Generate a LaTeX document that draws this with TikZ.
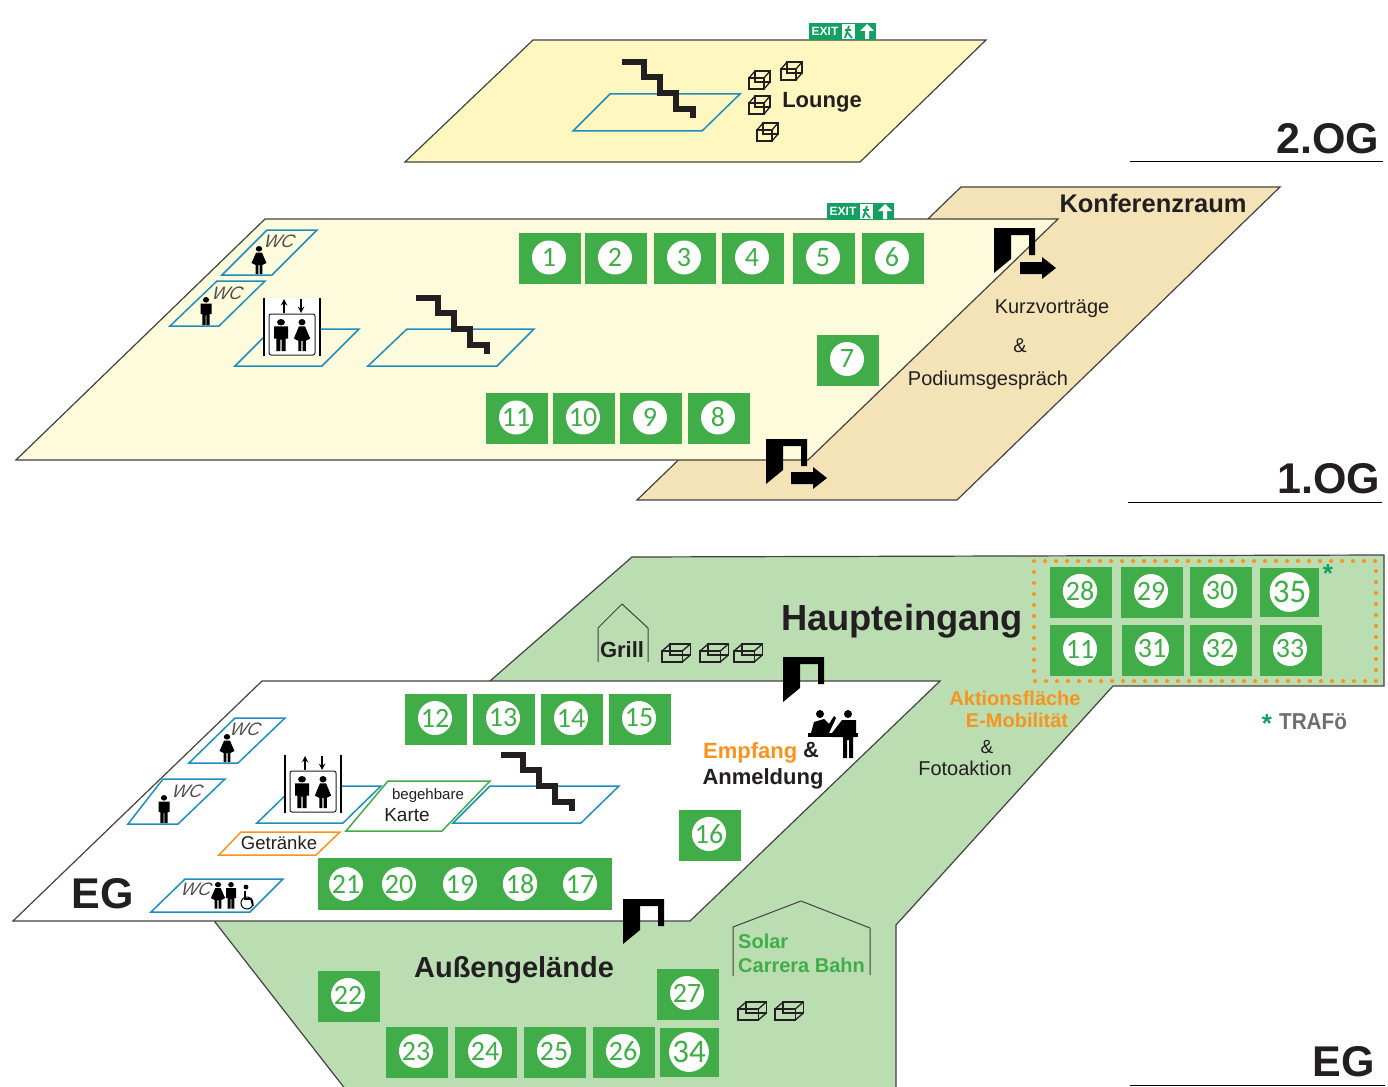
\documentclass[tikz,border=0pt]{standalone}
\usepackage{fontspec}
\setmainfont{Liberation Sans}
\newfontfamily\numfont{Carlito}
\usetikzlibrary{arrows,positioning}

\definecolor{lounge}{HTML}{FEF7C0}
\definecolor{cream}{HTML}{FEFADC}
\definecolor{tan}{HTML}{F3E3B6}
\definecolor{lawn}{HTML}{BBDDB2}
\definecolor{standgreen}{HTML}{41AD49}
\definecolor{exitgreen}{HTML}{149F63}
\definecolor{padblue}{HTML}{1F8EBF}
\definecolor{signorange}{HTML}{F7941E}
\definecolor{ink}{HTML}{231F20}

\newcommand{\fsz}[1]{\fontsize{#1}{#1}\selectfont}

\tikzset{
    plate/.style={draw=ink!85, line width=1.2pt},
    pad/.style={draw=padblue, line width=1.5pt},
    hut/.style={draw=ink!85, line width=1pt},
    stand/.style={fill=standgreen, minimum width=62pt, minimum height=51pt, inner sep=0pt},
    smallstand/.style={fill=standgreen, minimum width=59pt, minimum height=49pt, inner sep=0pt},
    barnum/.style={circle, fill=white, text=standgreen, minimum size=34pt, inner sep=0pt, font=\numfont\fsz{28}},
    num/.style={barnum, xshift=-1pt, yshift=1pt},
    bignum/.style={barnum, minimum size=38pt, font=\numfont\fsz{33}},
    txt/.style={text=ink, inner sep=0pt, font=\fsz{20}},
    bold/.style={text=ink, inner sep=0pt, font=\bfseries\fsz{22}},
    wc/.style={text=ink!80, inner sep=0pt, xslant=0.25, font=\itshape\fsz{18}},
    floorname/.style={text=ink, inner sep=0pt, font=\bfseries\fsz{43}},
    man/.pic={
        \fill[black] (0,2.8) circle (2.8);
        \fill[black] (-5,6.5) -- (5,6.5) -- (5,17) -- (3.3,17) -- (3.3,28) -- (0.4,28) -- (0.4,18)
            -- (-0.4,18) -- (-0.4,28) -- (-3.3,28) -- (-3.3,17) -- (-5,17) -- cycle;
    },
    woman/.pic={
        \fill[black] (0,2.8) circle (2.8);
        \fill[black] (-2.5,6.5) -- (2.5,6.5) -- (6.5,17) -- (3,19) -- (3,28) -- (0.5,28) -- (0.5,19)
            -- (-0.5,19) -- (-0.5,28) -- (-3,28) -- (-3,19) -- (-6.5,17) -- cycle;
    },
    lift/.pic={
        \fill[white] (0,0) rectangle (56,58);
        \draw[black, line width=2.2pt] (0,0) -- (0,58) (56,0) -- (56,58);
        \draw[ink, line width=1pt, rounded corners=2pt] (5,16) rectangle (51,57);
        \draw[-stealth, black, line width=1.8pt] (20,15) -- (20,1);
        \draw[-stealth, black, line width=1.8pt] (37,1) -- (37,15);
        \pic[xscale=1.4, yscale=1.15] at (17,21) {man};
        \pic[xscale=1.25, yscale=1.15] at (38,21) {woman};
    },
    stairs/.pic={
        \draw[ink, line width=6pt] (0,0) -- (22,0) -- (22,15) -- (38,15) -- (38,31) -- (54,31) -- (54,47) -- (71,47) -- (71,56);
    },
    crate/.pic={
        \draw[ink, line width=1.3pt] (0,7) rectangle (15,18);
        \draw[ink, line width=1.3pt] (6,0) rectangle (21,11);
        \draw[ink, line width=1.3pt] (0,7) -- (6,0) (15,7) -- (21,0) (15,18) -- (21,11);
    },
    door/.pic={
        \fill[black] (0,0) -- (41,0) -- (41,27) -- (35,27) -- (35,7) -- (17,7) -- (17,31) -- (0,45) -- cycle;
    },
    doorarrow/.pic={
        \fill[black] (25,34) -- (47,34) -- (47,29) -- (61,40) -- (47,51) -- (47,46) -- (25,46) -- cycle;
    },
    exitsign/.pic={
        \fill[exitgreen] (0,0) rectangle (67,17);
        \node[text=white, inner sep=0pt, font=\bfseries\fsz{12}] (-txt) at (16,8.5) {EXIT};
        \fill[white] (33,1) rectangle (46,16);
        \draw[exitgreen, line width=1.8pt] (40,3) -- (38,9) -- (43,15) (38,9) -- (36,15) (36,7) -- (42,7);
        \fill[white] (56,16) -- (56,8) -- (51,8) -- (58,1) -- (65,8) -- (60,8) -- (60,16) -- cycle;
    }
}

\begin{document}
\begin{tikzpicture}[x=1pt, y=-1pt]
    \useasboundingbox (0,0) rectangle (1388,1086);

    % 2.OG
    \draw[plate, fill=lounge] (405,162) -- (533,40) -- (986,40) -- (860,162) -- cycle;
    \pic (exit2) at (809,23) {exitsign};
    \draw[pad] (573,131) -- (610,94) -- (740,94) -- (702,131) -- cycle;
    \pic at (622,62) {stairs};
    \foreach \x/\y in {749/71,781/62,749/96,757/123}
        \pic at (\x,\y) {crate};
    \node[bold] (lounge) at (822,102) {Lounge};
    \node[floorname] (og2) at (1328,139) {2.OG};
    \coordinate (og2a) at (1130,161.5);
    \coordinate (og2b) at (1383,161.5);
    \draw[black, line width=1pt] (og2a) -- (og2b);

    % 1.OG
    \draw[plate, fill=tan] (637,500) -- (961,187) -- (1280,187) -- (957,500) -- cycle;
    \draw[plate, fill=cream] (16,460) -- (265,219) -- (1058,219) -- (808,460) -- cycle;
    \pic (exit1) at (827,203) {exitsign};
    \node[bold, font=\bfseries\fsz{25.5}] (konf) at (1153,203) {Konferenzraum};
    \node[txt] (kurz) at (1052,308.5) {Kurzvorträge};
    \node[txt] (und1) at (1020,346) {\&};
    \node[txt] (podium) at (988,380) {Podiumsgespräch};

    \draw[pad] (222,275) -- (267,230) -- (317,230) -- (272,275) -- cycle;
    \draw[pad] (170,326) -- (217,281) -- (265,281) -- (219,326) -- cycle;
    \node[wc] (wc1a) at (280,241) {WC};
    \node[wc] (wc1b) at (228,293) {WC};
    \pic[xscale=1.15] at (259,246) {woman};
    \pic[xscale=1.1] at (206,297) {man};

    \draw[pad] (235,366) -- (272,329) -- (359,329) -- (322,366) -- cycle;
    \pic at (264,298) {lift};
    \draw[pad] (368,366) -- (407,329) -- (534,329) -- (497,366) -- cycle;
    \pic at (416,298) {stairs};

    \foreach \n/\x in {1/550,2/616,3/685,4/753,5/824,6/893}
        \node[stand, label={[num]center:\n}] (s\n) at (\x,258.5) {};
    \node[stand, label={[num]center:7}] (s7) at (848,360) {};
    \foreach \n/\x in {11/517,10/584,9/651,8/719}
        \node[stand, label={[num]center:\n}] (s\n) at (\x,418.5) {};

    \pic at (994,228) {door};
    \pic at (995,228) {doorarrow};
    \pic at (766,439) {door};
    \pic at (766,438) {doorarrow};
    \node[floorname] (og1) at (1329,479) {1.OG};
    \coordinate (og1a) at (1128,502);
    \coordinate (og1b) at (1382,502);
    \draw[black, line width=1pt] (og1a) -- (og1b);

    % EG
    \draw[plate, fill=lawn] (215,922) -- (490,681) -- (632,557) -- (1384,555) -- (1384,686)
        -- (1113,686) -- (896,925) -- (896,1090) -- (346,1090) -- cycle;
    \draw[plate, fill=white] (13,921) -- (262,681) -- (940,681) -- (690,921) -- cycle;
    \draw[signorange, line width=4pt, line cap=round, dash pattern=on 0pt off 11pt] (1034,561) rectangle (1376,681);

    \draw[pad] (189,763) -- (235,718) -- (285,718) -- (238,763) -- cycle;
    \draw[pad] (128,824) -- (163,779) -- (225,779) -- (178,824) -- cycle;
    \draw[pad] (151,912) -- (185,879) -- (283,879) -- (250,912) -- cycle;
    \node[wc] (wc0a) at (246,729) {WC};
    \node[wc] (wc0b) at (188,791) {WC};
    \node[wc] (wc0c) at (197,889) {WC};
    \pic[xscale=1.15] at (227,734) {woman};
    \pic[xscale=1.1] at (164,795) {man};
    \pic[xscale=1.1, yscale=0.95] at (218,882) {woman};
    \pic[yscale=0.95] at (231,882) {man};
    % wheelchair
    \fill[black] (246,887) circle (2.4);
    \draw[black, line width=1.6pt] (245,891) -- (245,899) -- (251,899) -- (253,906);
    \draw[black, line width=1pt] (247,903) circle (6);

    \draw[pad] (257,823) -- (295,786) -- (381,786) -- (343,823) -- cycle;
    \pic at (285,755) {lift};
    \draw[draw=signorange, line width=1.5pt] (219,855) -- (241,832) -- (340,832) -- (316,855) -- cycle;
    \node[txt, font=\fsz{18.5}] (getraenke) at (279,843) {Getränke};
    \draw[draw=standgreen, line width=1.5pt] (346,831) -- (388,781) -- (490,781) -- (442,831) -- cycle;
    \node[txt, font=\fsz{15}] (begehbare) at (428,796) {begehbare};
    \node[txt, font=\fsz{19}] (karte) at (407,815) {Karte};
    \draw[pad] (453,823) -- (490,786) -- (619,786) -- (581,823) -- cycle;
    \pic at (501,755) {stairs};

    \foreach \n/\x in {12/436,13/504,14/572,15/640}
        \node[stand, label={[num]center:\n}] (s\n) at (\x,719) {};
    \node[stand, label={[num]center:16}] (s16) at (710,835) {};
    \node[fill=standgreen, minimum width=294pt, minimum height=52pt, inner sep=0pt] (bar) at (465,884) {};
    \foreach \n/\x in {21/346,20/399,19/460,18/520,17/580}
        \node[barnum] (s\n) at (\x,884) {\n};

    \node[stand, label={[num]center:22}] (s22) at (349,996) {};
    \foreach \n/\x in {23/417,24/486,25/555,26/624}
        \node[stand, label={[num]center:\n}] (s\n) at (\x,1052) {};
    \node[stand, label={[num]center:27}] (s27) at (688,994) {};
    \node[smallstand, label={[bignum]center:34}] (s34) at (689,1052) {};

    \foreach \n/\x in {28/1081,29/1152,30/1221}
        \node[stand, label={[num]center:\n}] (s\n) at (\x,592) {};
    \node[smallstand, label={[bignum]center:35}] (s35) at (1289.5,592) {};
    \node[stand, label={[num]center:11}] (s11b) at (1081,650) {};
    \foreach \n/\x in {31/1153,32/1221,33/1291}
        \node[stand, label={[num]center:\n}] (s\n) at (\x,650) {};

    \node[text=exitgreen, inner sep=0pt, font=\bfseries\fsz{26}] (star) at (1328,574) {*};
    \node[text=exitgreen, inner sep=0pt, font=\bfseries\fsz{26}] (star2) at (1267,724) {*};
    \node[text=ink!65, inner sep=0pt, font=\bfseries\fsz{23}, xscale=0.9] (trafo) at (1313,722) {TRAFö};

    \node[bold, font=\bfseries\fsz{36.3}] (eingang) at (902,621.5) {Haupteingang};
    \node[bold] (grill) at (622,650) {Grill};
    \draw[hut] (598,662) -- (598,628) -- (622,604) -- (648,628) -- (648,662);
    \foreach \x in {662,700,734}
        \pic[xscale=1.35] at (\x,644) {crate};
    \pic at (783,657) {door};

    \node[bold, text=signorange, font=\bfseries\fsz{20}] (aktion) at (1015,698) {Aktionsfläche};
    \node[bold, text=signorange, font=\bfseries\fsz{20}] (emob) at (1017,720) {E-Mobilität};
    \node[txt, font=\fsz{19}] (und2) at (987,747) {\&};
    \node[txt] (foto) at (965,768) {Fotoaktion};

    \node[bold, text=signorange, anchor=west] (empfang) at (703,753) {Empfang};
    \node[bold, anchor=west] (und3) at (803,750) {\&};
    \node[bold] (anmeldung) at (763,779) {Anmeldung};
    % reception desk
    \fill[black] (820,714) circle (4);
    \fill[black] (848,714) circle (4);
    \fill[black] (811,733) -- (814,722) -- (824,719) -- (829,724) -- (834,716) -- (836,718) -- (829,733) -- cycle;
    \fill[black] (832,733) -- (842,720) -- (856,720) -- (856,737) -- (853,737) -- (853,758) -- (849,758) -- (849,740)
        -- (847,740) -- (847,758) -- (843,758) -- (843,737) -- (832,737) -- cycle;
    \fill[black] (808,733) rectangle (858,737);

    \node[floorname] (eg) at (103,894) {EG};
    \pic at (623,899) {door};
    \node[bold, font=\bfseries\fsz{29}] (gelaende) at (514,970) {Außengelände};
    \draw[hut] (733,976) -- (733,927) -- (801,901) -- (870,928) -- (870,975);
    \node[bold, text=standgreen, font=\bfseries\fsz{20}, anchor=west] (solar) at (738,941) {Solar};
    \node[bold, text=standgreen, font=\bfseries\fsz{20}, anchor=west] (carrera) at (738,965) {Carrera Bahn};
    \foreach \x in {738,775}
        \pic[xscale=1.35] at (\x,1002) {crate};

    \node[floorname] (eg2) at (1344,1062) {EG};
    \coordinate (ega) at (1130,1085);
    \coordinate (egb) at (1385,1085);
    \draw[black, line width=1pt] (ega) -- (egb);
\end{tikzpicture}
\end{document}
